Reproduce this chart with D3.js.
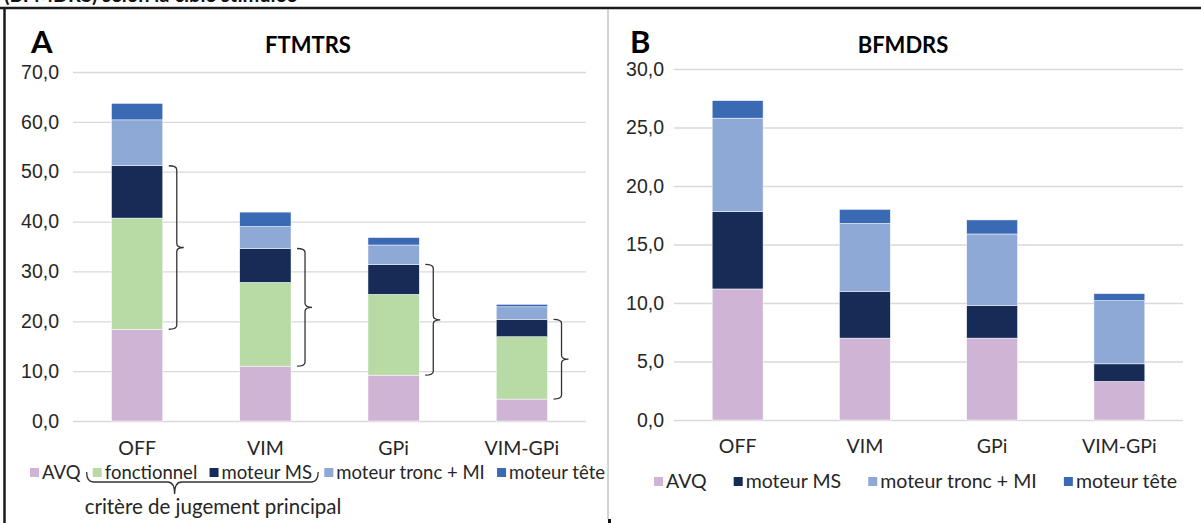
<!DOCTYPE html>
<html>
<head>
<meta charset="utf-8">
<script src="https://d3js.org/d3.v7.min.js"></script>
<style>
  body { margin: 0; background: #fff; }
  svg { display: block; font-family: Lato, 'Open Sans', sans-serif; }
  .tick text { fill: #262626; font-size: 19.5px; }
  .grid line { stroke: #d9d9d9; stroke-width: 1.3; }
  .lbl { fill: #262626; font-size: 19.5px; }
</style>
</head>
<body>
<div id="chart"></div>
<script>
// categories and series
const categories = ['OFF', 'VIM', 'GPi', 'VIM-GPi'];

// FTMTRS (panel A)
const seriesA = ['AVQ', 'fonctionnel', 'moteur MS', 'moteur tronc + MI', 'moteur tête'];
const avqA = [18.4, 11.0, 9.2, 4.4];
const fonctA = [22.3, 16.8, 16.2, 12.5];
const msA = [10.5, 6.8, 6.0, 3.5];
const troncA = [9.2, 4.4, 3.9, 2.5];
const teteA = [3.3, 2.9, 1.5, 0.5];
const ticksA = [0, 10, 20, 30, 40, 50, 60, 70];

// BFMDRS (panel B)
const seriesB = ['AVQ', 'moteur MS', 'moteur tronc + MI', 'moteur tête'];
const avqB = [11.2, 7.0, 7.0, 3.3];
const msB = [6.6, 4.0, 2.8, 1.5];
const troncB = [8.0, 5.8, 6.1, 5.4];
const teteB = [1.5, 1.2, 1.2, 0.6];
const ticksB = [0, 5, 10, 15, 20, 25, 30];

const colors = {
  'AVQ': '#d0b4d6',
  'fonctionnel': '#b8daa4',
  'moteur MS': '#162b56',
  'moteur tronc + MI': '#8ea9d6',
  'moteur tête': '#3b6ab5'
};

const W = 1201, H = 523;
const fr = d3.formatLocale({ decimal: ',', thousands: ' ', grouping: [3], currency: ['', '€'] });
const fmt = fr.format('.1f');

const svg = d3.select('#chart').append('svg').attr('width', W).attr('height', H);

// page frame (caption cut off at the top, as in the source + borders)
svg.append('text').attr('x', 4).attr('y', 2)
  .attr('font-size', 20).attr('font-weight', 'bold').attr('fill', '#111')
  .text('(BFMDRS) selon la cible stimulée');
svg.append('line').attr('x1', 0).attr('x2', W).attr('y1', 8).attr('y2', 8)
  .attr('stroke', '#1a1a1a').attr('stroke-width', 2.5);
svg.append('line').attr('x1', 4.5).attr('x2', 4.5).attr('y1', 8).attr('y2', H)
  .attr('stroke', '#1a1a1a').attr('stroke-width', 2.5);
svg.append('line').attr('x1', 608).attr('x2', 608).attr('y1', 9).attr('y2', 519)
  .attr('stroke', '#a6a6a6').attr('stroke-width', 1);
svg.append('rect').attr('x', 608).attr('y', 519).attr('width', 3).attr('height', 4).attr('fill', '#111');

function drawPanel(o) {
  const g = svg.append('g');
  const x = d3.scaleBand().domain(categories).range(o.xr).paddingInner(0.6).paddingOuter(0.3);
  const y = d3.scaleLinear().domain([0, o.ticks[o.ticks.length - 1]]).range(o.yr);

  // gridlines + tick labels
  const ax = g.append('g').attr('class', 'grid')
    .attr('transform', `translate(${o.xr[0]},0)`)
    .call(d3.axisLeft(y).tickValues(o.ticks).tickFormat(fmt)
      .tickSize(-(o.xr[1] - o.xr[0])).tickPadding(o.pad));
  ax.select('.domain').remove();

  // stacked bars
  const rows = categories.map((c, i) => {
    const r = { cat: c };
    o.series.forEach((s, k) => { r[s] = o.values[k][i]; });
    return r;
  });
  const stack = d3.stack().keys(o.series)(rows);
  g.selectAll('g.layer').data(stack).join('g')
    .attr('class', 'layer')
    .attr('fill', d => colors[d.key])
    .selectAll('rect').data(d => d).join('rect')
    .attr('x', d => x(d.data.cat))
    .attr('width', x.bandwidth())
    .attr('y', d => y(d[1]))
    .attr('height', d => y(d[0]) - y(d[1]))
    .attr('stroke', '#fff').attr('stroke-width', 0.5);

  // category labels
  g.selectAll('text.cat').data(categories).join('text')
    .attr('class', 'lbl cat')
    .attr('x', d => x(d) + x.bandwidth() / 2)
    .attr('y', o.catY)
    .attr('text-anchor', 'middle')
    .text(d => d);

  // panel letter + title
  g.append('text').attr('x', o.letterX).attr('y', 53)
    .attr('font-size', 31).attr('font-weight', 'bold').attr('fill', '#000')
    .text(o.letter);
  g.append('text').attr('x', o.titleX).attr('y', 53).attr('text-anchor', 'middle')
    .attr('font-size', 22).attr('font-weight', 'bold').attr('fill', '#000')
    .text(o.title);

  // legend, spread between two x limits
  const items = g.append('g').selectAll('g').data(o.series).join('g');
  items.append('rect').attr('y', o.legY - 11).attr('width', 9).attr('height', 9)
    .attr('fill', d => colors[d]);
  items.append('text').attr('class', 'lbl').attr('x', 12).attr('y', o.legY)
    .style('font-size', o.legFont + 'px').text(d => d);
  const widths = items.nodes().map(n => 12 + n.querySelector('text').getComputedTextLength());
  const gap = (o.legX[1] - o.legX[0] - d3.sum(widths)) / (widths.length - 1);
  let cx = o.legX[0];
  const pos = [];
  items.each(function(d, i) {
    d3.select(this).attr('transform', `translate(${cx},0)`);
    pos.push({ x: cx, w: widths[i] });
    cx += widths[i] + gap;
  });

  return { g, x, y, stack, pos, gap };
}

function bracePath(x0, x1, xt, yTop, yBot) {
  const r = 4, ym = (yTop + yBot) / 2;
  return `M${x0},${yTop} Q${x1},${yTop} ${x1},${yTop + r} L${x1},${ym - r} Q${x1},${ym} ${xt},${ym}` +
    ` Q${x1},${ym} ${x1},${ym + r} L${x1},${yBot - r} Q${x1},${yBot} ${x0},${yBot}`;
}

const A = drawPanel({
  series: seriesA, values: [avqA, fonctA, msA, troncA, teteA], ticks: ticksA,
  xr: [73, 586], yr: [421, 72], pad: 14, catY: 455,
  letter: 'A', letterX: 31, title: 'FTMTRS', titleX: 308,
  legY: 479, legX: [30, 605], legFont: 18.5
});

const B = drawPanel({
  series: seriesB, values: [avqB, msB, troncB, teteB], ticks: ticksB,
  xr: [674, 1183], yr: [420, 69], pad: 10, catY: 453,
  letter: 'B', letterX: 630, title: 'BFMDRS', titleX: 903,
  legY: 488, legX: [654, 1177], legFont: 19.5
});

// braces beside panel A bars: AVQ top -> moteur MS top (critère de jugement principal)
const low = A.stack[0], high = A.stack[2];
A.g.selectAll('path.brace').data(categories).join('path')
  .attr('class', 'brace')
  .attr('fill', 'none').attr('stroke', '#333').attr('stroke-width', 1.3)
  .attr('d', (c, i) => {
    const xr = A.x(c) + A.x.bandwidth();
    return bracePath(xr + 6, xr + 14, xr + 21, A.y(high[i][1]), A.y(low[i][1]));
  });

// brace under "fonctionnel" + "moteur MS" legend entries
const xl = A.pos[1].x - A.gap / 2, xrr = A.pos[2].x + A.pos[2].w + A.gap / 2;
const xt = xl + (xrr - xl) * 0.38;
A.g.append('path').attr('fill', 'none').attr('stroke', '#333').attr('stroke-width', 1.3)
  .attr('d', `M${xl},472 Q${xl},482 ${xl + 7},482 L${xt - 7},482 Q${xt},482 ${xt},494` +
    ` Q${xt},482 ${xt + 7},482 L${xrr - 7},482 Q${xrr},482 ${xrr},472`);
A.g.append('text').attr('class', 'lbl').attr('x', xl - 2).attr('y', 514)
  .style('font-size', '20.5px')
  .text('critère de jugement principal');
</script>
</body>
</html>
